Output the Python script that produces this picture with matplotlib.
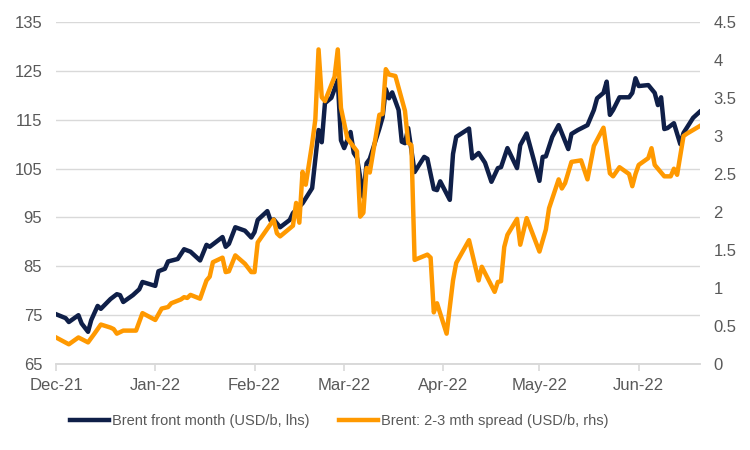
import matplotlib
matplotlib.use("Agg")
import matplotlib.pyplot as plt
import matplotlib.dates as mdates
import pandas as pd

# Brent front month (USD/b), left axis
brent_dates = [
    "2021-12-01", "2021-12-04", "2021-12-05", "2021-12-08", "2021-12-09", "2021-12-11",
    "2021-12-12", "2021-12-14", "2021-12-15", "2021-12-18", "2021-12-20", "2021-12-21",
    "2021-12-22", "2021-12-25", "2021-12-27", "2021-12-28", "2022-01-01", "2022-01-02",
    "2022-01-04", "2022-01-05", "2022-01-08", "2022-01-10", "2022-01-12", "2022-01-15",
    "2022-01-17", "2022-01-18", "2022-01-22", "2022-01-23", "2022-01-24", "2022-01-26",
    "2022-01-29", "2022-01-31", "2022-02-01", "2022-02-02", "2022-02-05", "2022-02-06",
    "2022-02-07", "2022-02-09", "2022-02-12", "2022-02-13", "2022-02-16", "2022-02-19",
    "2022-02-21", "2022-02-22", "2022-02-23", "2022-02-25", "2022-02-27", "2022-02-28",
    "2022-03-01", "2022-03-03", "2022-03-04", "2022-03-05", "2022-03-07", "2022-03-08",
    "2022-03-09", "2022-03-12", "2022-03-13", "2022-03-14", "2022-03-15", "2022-03-16",
    "2022-03-18", "2022-03-19", "2022-03-20", "2022-03-21", "2022-03-23", "2022-03-26",
    "2022-03-27", "2022-03-29", "2022-03-30", "2022-03-31", "2022-04-03", "2022-04-04",
    "2022-04-05", "2022-04-09", "2022-04-10", "2022-04-12", "2022-04-14", "2022-04-16",
    "2022-04-18", "2022-04-19", "2022-04-21", "2022-04-24", "2022-04-25", "2022-04-27",
    "2022-05-01", "2022-05-02", "2022-05-03", "2022-05-05", "2022-05-07", "2022-05-10",
    "2022-05-11", "2022-05-13", "2022-05-16", "2022-05-18", "2022-05-19", "2022-05-21",
    "2022-05-22", "2022-05-23", "2022-05-24", "2022-05-26", "2022-05-29", "2022-05-30",
    "2022-05-31", "2022-06-01", "2022-06-04", "2022-06-06", "2022-06-07", "2022-06-08",
    "2022-06-09", "2022-06-10", "2022-06-12", "2022-06-14", "2022-06-15", "2022-06-18",
    "2022-06-20",
]
brent_values = [
    75.2, 74.4, 73.6, 75.0, 73.3, 71.6,
    74.0, 76.9, 76.3, 78.3, 79.3, 79.1,
    77.7, 79.1, 80.3, 81.8, 81.0, 84.0,
    84.5, 86.0, 86.5, 88.5, 88.0, 86.2,
    89.4, 89.0, 91.0, 89.0, 89.6, 93.0,
    92.3, 90.9, 92.0, 94.5, 96.3, 94.4,
    94.6, 93.0, 94.5, 95.9, 97.9, 101.0,
    112.9, 110.4, 118.4, 119.5, 123.1, 110.8,
    109.2, 112.5, 108.2, 107.2, 99.2, 106.1,
    107.0, 113.2, 115.5, 121.3, 119.4, 120.6,
    117.0, 110.5, 110.2, 113.3, 104.3, 107.4,
    107.0, 100.8, 100.6, 102.4, 98.6, 108.0,
    111.5, 113.2, 107.1, 108.2, 106.2, 102.3,
    105.1, 105.3, 109.2, 105.1, 109.8, 112.2,
    102.5, 107.4, 107.5, 111.5, 113.9, 109.0,
    112.1, 112.9, 113.9, 117.0, 119.4, 120.5,
    122.8, 116.0, 117.0, 119.6, 119.6, 120.5,
    123.5, 121.9, 122.1, 120.5, 118.0, 119.6,
    113.1, 113.3, 114.3, 110.0, 112.3, 115.4,
    116.6,
]

# Brent 2-3 month spread (USD/b), right axis
spread_dates = [
    "2021-12-01", "2021-12-05", "2021-12-08", "2021-12-11", "2021-12-13", "2021-12-15",
    "2021-12-18", "2021-12-19", "2021-12-20", "2021-12-22", "2021-12-26", "2021-12-28",
    "2022-01-01", "2022-01-03", "2022-01-05", "2022-01-06", "2022-01-09", "2022-01-10",
    "2022-01-11", "2022-01-12", "2022-01-15", "2022-01-17", "2022-01-18", "2022-01-19",
    "2022-01-22", "2022-01-23", "2022-01-24", "2022-01-26", "2022-01-29", "2022-01-31",
    "2022-02-01", "2022-02-02", "2022-02-06", "2022-02-07", "2022-02-08", "2022-02-09",
    "2022-02-13", "2022-02-14", "2022-02-15", "2022-02-16", "2022-02-17", "2022-02-19",
    "2022-02-20", "2022-02-21", "2022-02-22", "2022-02-23", "2022-02-26", "2022-02-27",
    "2022-02-28", "2022-03-02", "2022-03-05", "2022-03-06", "2022-03-07", "2022-03-08",
    "2022-03-09", "2022-03-12", "2022-03-13", "2022-03-14", "2022-03-15", "2022-03-17",
    "2022-03-20", "2022-03-21", "2022-03-22", "2022-03-23", "2022-03-27", "2022-03-28",
    "2022-03-29", "2022-03-30", "2022-04-02", "2022-04-04", "2022-04-05", "2022-04-09",
    "2022-04-12", "2022-04-13", "2022-04-17", "2022-04-18", "2022-04-19", "2022-04-20",
    "2022-04-21", "2022-04-24", "2022-04-25", "2022-04-27", "2022-05-01", "2022-05-03",
    "2022-05-04", "2022-05-07", "2022-05-08", "2022-05-09", "2022-05-11", "2022-05-14",
    "2022-05-16", "2022-05-18", "2022-05-21", "2022-05-23", "2022-05-24", "2022-05-26",
    "2022-05-29", "2022-05-30", "2022-05-31", "2022-06-01", "2022-06-04", "2022-06-05",
    "2022-06-06", "2022-06-09", "2022-06-11", "2022-06-12", "2022-06-13", "2022-06-15",
    "2022-06-16", "2022-06-20",
]
spread_values = [
    0.35, 0.26, 0.35, 0.285, 0.40, 0.52,
    0.48, 0.46, 0.40, 0.44, 0.44, 0.67,
    0.58, 0.73, 0.75, 0.80, 0.85, 0.88,
    0.87, 0.91, 0.86, 1.10, 1.15, 1.34,
    1.40, 1.21, 1.22, 1.43, 1.32, 1.21,
    1.21, 1.60, 1.84, 1.90, 1.72, 1.68,
    1.82, 2.12, 1.86, 2.53, 2.36, 2.90,
    3.22, 4.14, 3.51, 3.46, 3.78, 4.14,
    3.37, 2.97, 2.80, 1.94, 1.99, 2.58,
    2.52, 3.28, 3.29, 3.88, 3.81, 3.79,
    3.33, 2.91, 2.88, 1.37, 1.44, 1.40,
    0.68, 0.80, 0.40, 1.10, 1.33, 1.63,
    1.10, 1.28, 0.95, 1.08, 1.09, 1.54,
    1.70, 1.91, 1.57, 1.92, 1.48, 1.77,
    2.05, 2.43, 2.31, 2.38, 2.66, 2.68,
    2.43, 2.87, 3.11, 2.51, 2.47, 2.59,
    2.50, 2.34, 2.50, 2.62, 2.71, 2.84,
    2.62, 2.47, 2.47, 2.57, 2.49, 3.00,
    3.03, 3.13,
]

left_ticks = [65, 75, 85, 95, 105, 115, 125, 135]
right_ticks = [0, 0.5, 1, 1.5, 2, 2.5, 3, 3.5, 4, 4.5]
right_labels = ["0", "0.5", "1", "1.5", "2", "2.5", "3", "3.5", "4", "4.5"]
month_ticks = ["2021-12-01", "2022-01-01", "2022-02-01", "2022-03-01",
               "2022-04-01", "2022-05-01", "2022-06-01"]

navy = "#0f1f48"
orange = "#ff9900"
text_grey = "#595959"
grid_grey = "#d9d9d9"

plt.rcParams["font.family"] = ["Liberation Sans", "DejaVu Sans"]

fig = plt.figure(figsize=(7.5, 4.5), dpi=100)
ax = fig.add_axes([0.0747, 0.191, 0.858, 0.760])
ax2 = ax.twinx()

ax.plot(pd.to_datetime(brent_dates), brent_values, color=navy, lw=3.2,
        solid_joinstyle="round", label="Brent front month (USD/b, lhs)", zorder=3)
ax2.plot(pd.to_datetime(spread_dates), spread_values, color=orange, lw=3.2,
         solid_joinstyle="round", label="Brent: 2-3 mth spread (USD/b, rhs)", zorder=3)

ax.set_ylim(65, 135)
ax.set_yticks(left_ticks)
ax2.set_ylim(0, 4.5)
ax2.set_yticks(right_ticks)
ax2.set_yticklabels(right_labels)

ax.set_xlim(pd.Timestamp("2021-12-01"), pd.Timestamp("2022-06-20"))
ax.set_xticks(pd.to_datetime(month_ticks))
ax.xaxis.set_major_formatter(mdates.DateFormatter("%b-%y"))

ax.grid(axis="y", color=grid_grey, lw=1)
ax.set_axisbelow(True)
for a in (ax, ax2):
    for side in ("top", "left", "right"):
        a.spines[side].set_visible(False)
    a.spines["bottom"].set_color(grid_grey)
    a.spines["bottom"].set_linewidth(1.2)
    a.tick_params(colors=text_grey, labelsize=12)
ax.tick_params(axis="y", length=0, pad=10)
ax2.tick_params(axis="y", length=0, pad=10)
ax.tick_params(axis="x", length=5, color=grid_grey, width=1.2, pad=5)

h1, l1 = ax.get_legend_handles_labels()
h2, l2 = ax2.get_legend_handles_labels()
fig.legend(h1 + h2, l1 + l2, loc="center left", bbox_to_anchor=(0.093, 0.064), ncol=2,
           frameon=False, fontsize=10.5, labelcolor=text_grey, handlelength=2.67,
           handletextpad=0.2, columnspacing=2.05, borderpad=0, borderaxespad=0)

fig.savefig("out.png", dpi=100)
